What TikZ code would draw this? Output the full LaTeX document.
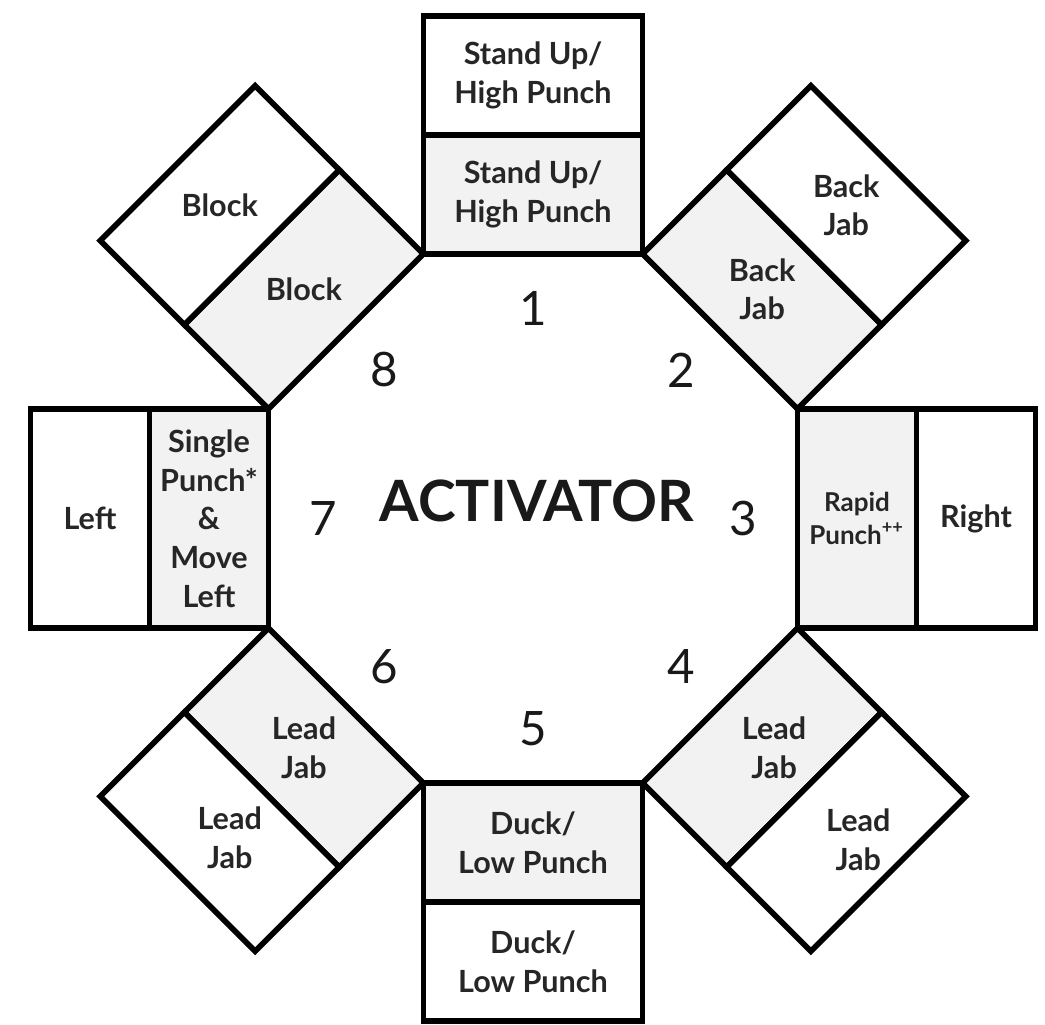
\documentclass[tikz,border=0pt]{standalone}
\usepackage{fontspec}
\setmainfont{Lato}
\usetikzlibrary{calc}
\definecolor{innerFill}{HTML}{F2F2F2}
\tikzset{
  boxline/.style={draw=black, line width=1.6pt, line join=miter},
  innerbox/.style={boxline, fill=innerFill},
  outerbox/.style={boxline, fill=white},
  boxtext/.style={font=\fontsize{8.7}{11}\selectfont\bfseries, align=center,
    text=black!85, inner sep=0pt},
  smalltext/.style={boxtext, font=\fontsize{7.4}{9.4}\selectfont\bfseries},
  numtext/.style={font=\fontsize{13.5}{13.5}\selectfont, text=black!90},
  titletext/.style={font=\fontsize{16.2}{17}\selectfont\bfseries, text=black!90},
}

\begin{document}
\begin{tikzpicture}
  \useasboundingbox (0,0) rectangle (10.45,10.25);
  \coordinate (ctr) at (5.33,5.065);
  \def\apo{2.645}
  \def\rad{2.863}
  \def\dep{1.19}
  % two boxes on every side, clockwise from the top
  \foreach \k/\ang in {1/90,2/45,3/0,4/-45,5/-90,6/-135,7/180,8/135}{
    \coordinate (a\k) at ($(ctr)+(\ang+22.5:\rad)$);
    \coordinate (b\k) at ($(ctr)+(\ang-22.5:\rad)$);
    \coordinate (c\k) at ($(b\k)+(\ang:\dep)$);
    \coordinate (d\k) at ($(a\k)+(\ang:\dep)$);
    \draw[innerbox] (a\k) -- (b\k) -- (c\k) -- (d\k) -- cycle;
    \draw[outerbox] (d\k) -- (c\k) -- ($(c\k)+(\ang:\dep)$) -- ($(d\k)+(\ang:\dep)$) -- cycle;
    \node[numtext] (num\k) at ($(ctr)+(\ang:2.1)$) {\k};
  }
  \node[titletext] (activator) at ($(ctr)+(0.04,0.18)$) {ACTIVATOR};
  % inner boxes
  \node[boxtext] (in1) at ($(ctr)+(90:\apo+0.5*\dep)$) {Stand Up/\\High Punch};
  \node[boxtext] (in2) at ($(ctr)+(45:\apo+0.5*\dep)$) {Back\\Jab};
  \node[smalltext] (in3) at ($(ctr)+(0:\apo+0.5*\dep)$) {Rapid\\Punch\textsuperscript{++}};
  \node[boxtext] (in4) at ($(ctr)+(-45:\apo+0.5*\dep)+(0.12,0)$) {Lead\\Jab};
  \node[boxtext] (in5) at ($(ctr)+(-90:\apo+0.5*\dep)$) {Duck/\\Low Punch};
  \node[boxtext] (in6) at ($(ctr)+(-135:\apo+0.5*\dep)$) {Lead\\Jab};
  \node[boxtext] (in7) at ($(ctr)+(180:\apo+0.5*\dep)$) {Single\\Punch*\\\&\\Move\\Left};
  \node[boxtext] (in8) at ($(ctr)+(135:\apo+0.5*\dep)$) {Block};
  % outer boxes
  \node[boxtext] (out1) at ($(ctr)+(90:\apo+1.5*\dep)$) {Stand Up/\\High Punch};
  \node[boxtext] (out2) at ($(ctr)+(45:\apo+1.5*\dep)$) {Back\\Jab};
  \node[boxtext] (out3) at ($(ctr)+(0:\apo+1.5*\dep)$) {Right};
  \node[boxtext] (out4) at ($(ctr)+(-45:\apo+1.5*\dep)+(0.12,-0.08)$) {Lead\\Jab};
  \node[boxtext] (out5) at ($(ctr)+(-90:\apo+1.5*\dep)$) {Duck/\\Low Punch};
  \node[boxtext] (out6) at ($(ctr)+(-135:\apo+1.5*\dep)+(0.1,-0.06)$) {Lead\\Jab};
  \node[boxtext] (out7) at ($(ctr)+(180:\apo+1.5*\dep)$) {Left};
  \node[boxtext] (out8) at ($(ctr)+(135:\apo+1.5*\dep)$) {Block};
\end{tikzpicture}
\end{document}
